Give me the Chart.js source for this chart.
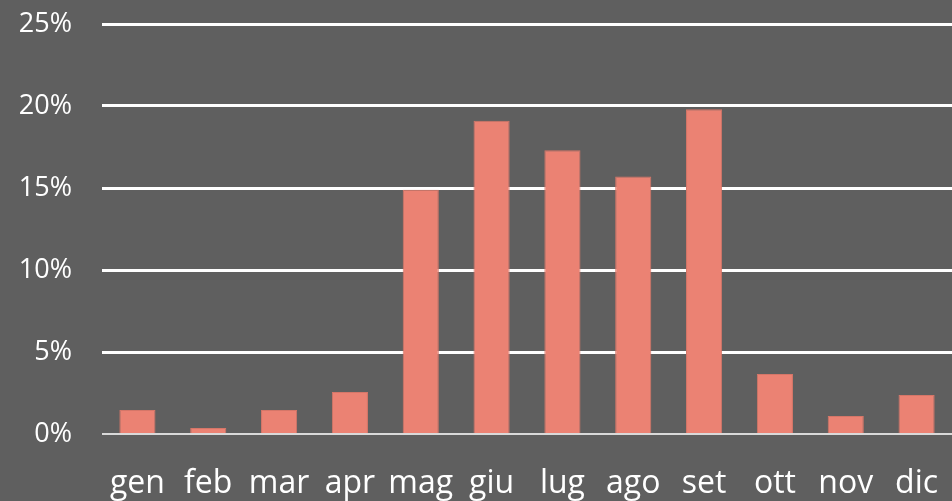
<!DOCTYPE html>
<html>
<head>
<meta charset="utf-8">
<script src="https://cdn.jsdelivr.net/npm/chart.js@4"></script>
<style>
  html, body { margin: 0; padding: 0; background: #5f5f5f; }
  #wrap { width: 952px; height: 501px; position: relative; }
</style>
</head>
<body>
<div id="wrap"><canvas id="myChart"></canvas></div>
<script>
const months = ['gen', 'feb', 'mar', 'apr', 'mag', 'giu', 'lug', 'ago', 'set', 'ott', 'nov', 'dic'];
const shares = [1.46, 0.37, 1.46, 2.56, 14.9, 19.1, 17.3, 15.7, 19.8, 3.66, 1.1, 2.38];
const yTicks = [0, 5, 10, 15, 20, 25];

const ctx = document.getElementById('myChart');

const myChart = new Chart(ctx, {
    type: 'bar',
    data: {
        labels: months,
        datasets: [{
            data: shares,
            backgroundColor: '#eb8273',
            borderColor: '#d57668',
            borderWidth: 1,
            categoryPercentage: 1,
            barPercentage: 0.51
        }]
    },
    options: {
        responsive: true,
        maintainAspectRatio: false,
        animation: false,
        layout: { padding: { top: 24, right: 0, left: 0, bottom: 0 } },
        plugins: {
            legend: { display: false },
            tooltip: { enabled: false }
        },
        scales: {
            x: {
                grid: { display: false, drawTicks: false },
                border: { display: false },
                ticks: {
                    color: '#ffffff',
                    font: { family: 'Open Sans', size: 32 },
                    padding: 31,
                    maxRotation: 0,
                    autoSkip: false
                },
                afterFit: scale => {
                    scale.height = 67;
                    scale.paddingLeft = 0;
                    scale.paddingRight = 0;
                }
            },
            y: {
                min: 0,
                max: 25,
                afterBuildTicks: scale => { scale.ticks = yTicks.map(v => ({ value: v })); },
                grid: {
                    drawTicks: false,
                    color: c => c.tick && c.tick.value === 0 ? '#d9d9d9' : '#ffffff',
                    lineWidth: c => c.tick && c.tick.value === 0 ? 2 : 3
                },
                border: { display: false },
                ticks: {
                    color: '#ffffff',
                    font: { family: 'Open Sans', size: 27 },
                    padding: 30,
                    callback: v => v + '%'
                },
                afterFit: scale => {
                    scale.width = 102;
                    scale.paddingTop = 0;
                    scale.paddingBottom = 0;
                }
            }
        }
    }
});
</script>
</body>
</html>
